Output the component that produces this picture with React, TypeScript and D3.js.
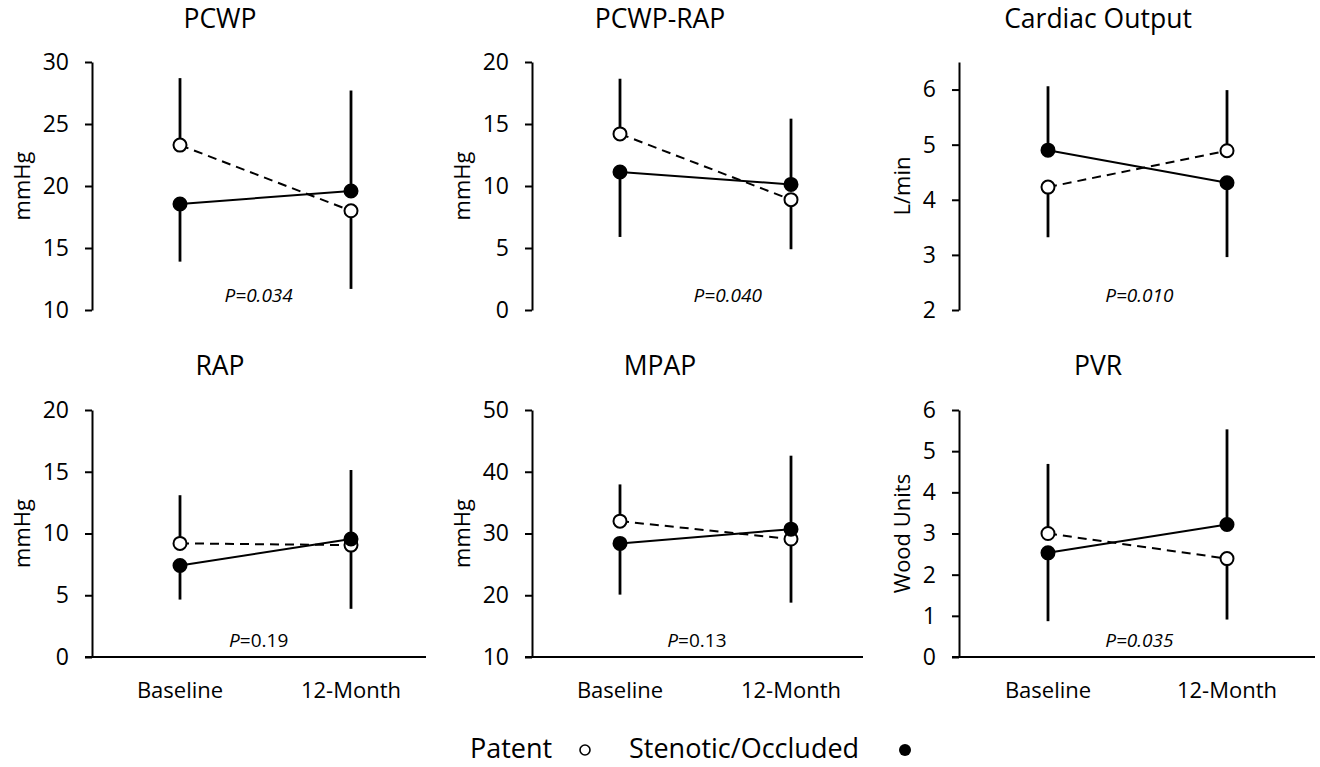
import React, { useRef, useEffect } from "react";
import * as d3 from "d3";

// chart data
const timepoints = ["Baseline", "12-Month"];
const panelTitles = ["PCWP", "PCWP-RAP", "Cardiac Output", "RAP", "MPAP", "PVR"];
const yLabels = ["mmHg", "mmHg", "L/min", "mmHg", "mmHg", "Wood Units"];
const yDomains = [[10, 30], [0, 20], [2, 6.5], [0, 20], [10, 50], [0, 6]];
const yTicks = [
  [10, 15, 20, 25, 30],
  [0, 5, 10, 15, 20],
  [2, 3, 4, 5, 6],
  [0, 5, 10, 15, 20],
  [10, 20, 30, 40, 50],
  [0, 1, 2, 3, 4, 5, 6],
];
// means and the end of the one-sided error bar, [baseline, 12-month]
const patentMeans = [[23.3, 18.0], [14.2, 8.9], [4.23, 4.89], [9.2, 9.06], [32.0, 29.1], [3.0, 2.39]];
const patentBarEnds = [[28.7, 11.7], [18.65, 4.9], [3.32, 5.99], [13.1, 3.9], [37.95, 18.8], [4.69, 0.91]];
const stenoticMeans = [[18.55, 19.6], [11.13, 10.13], [4.9, 4.31], [7.41, 9.55], [28.4, 30.7], [2.53, 3.22]];
const stenoticBarEnds = [[13.9, 27.7], [5.89, 15.43], [6.06, 2.96], [4.65, 15.14], [20.1, 42.6], [0.87, 5.53]];
const pValues = ["=0.034", "=0.040", "=0.010", "=0.19", "=0.13", "=0.035"];
const pAllItalic = [true, true, true, false, false, true];
const legendLabels = ["Patent", "Stenotic/Occluded"];

const App = () => {
  const ref = useRef<SVGSVGElement>(null);

  useEffect(() => {
    document.body.style.margin = "0";
    const width = 1320;
    const height = 767;
    const font = "'Open Sans', sans-serif";

    // layout per column / row
    const cols = [
      { axis: 92, p0: 180, p1: 351, end: 426, ylab: 30, title: 220 },
      { axis: 532, p0: 620, p1: 791, end: 863, ylab: 470, title: 660 },
      { axis: 959, p0: 1048, p1: 1227, end: 1315, ylab: 910, title: 1098 },
    ];
    const rows = [
      { top: 62, bottom: 310, title: 28, pY: 302, xAxis: false },
      { top: 410, bottom: 657, title: 375, pY: 647, xAxis: true },
    ];
    const pFrac = [0.46, 0.63, 0.51, 0.46, 0.45, 0.51];

    const svg = d3.select(ref.current).attr("width", width).attr("height", height);
    svg.selectAll("*").remove();

    panelTitles.forEach((title, i) => {
      const c = cols[i % 3];
      const r = rows[Math.floor(i / 3)];
      const g = svg.append("g").style("font-family", font);

      const x = d3.scalePoint().domain(timepoints).range([c.p0, c.p1]);
      const y = d3.scaleLinear().domain(yDomains[i]).range([r.bottom, r.top]);

      // title
      g.append("text")
        .attr("x", c.title)
        .attr("y", r.title)
        .attr("text-anchor", "middle")
        .style("font-size", "26.5px")
        .style("fill", "#000")
        .text(title);

      // y axis
      const yAxis = d3.axisLeft(y)
        .tickValues(yTicks[i])
        .tickFormat(d3.format("d"))
        .tickSize(7)
        .tickPadding(16)
        .tickSizeOuter(0);
      const ya = g.append("g").attr("transform", `translate(${c.axis},0)`).call(yAxis);
      ya.select(".domain").attr("stroke", "#000").attr("stroke-width", 2);
      ya.selectAll(".tick line").attr("stroke", "#000").attr("stroke-width", 2);
      ya.selectAll(".tick text")
        .style("font-size", "23px")
        .style("font-family", font)
        .attr("fill", "#000");

      // y label
      g.append("text")
        .attr("transform", `translate(${c.ylab},${(r.top + r.bottom) / 2}) rotate(-90)`)
        .attr("text-anchor", "middle")
        .style("font-size", "22px")
        .text(yLabels[i]);

      // x axis (bottom row only)
      if (r.xAxis) {
        g.append("line")
          .attr("x1", c.axis - 7)
          .attr("x2", c.end)
          .attr("y1", r.bottom)
          .attr("y2", r.bottom)
          .attr("stroke", "#000")
          .attr("stroke-width", 2);
        g.selectAll("text.cat")
          .data(timepoints)
          .enter()
          .append("text")
          .attr("class", "cat")
          .attr("x", (d) => x(d)!)
          .attr("y", r.bottom + 41)
          .attr("text-anchor", "middle")
          .style("font-size", "22px")
          .text((d) => d);
      }

      const series = [
        { means: patentMeans[i], ends: patentBarEnds[i], dash: "9,6", fill: "#fff" },
        { means: stenoticMeans[i], ends: stenoticBarEnds[i], dash: null, fill: "#000" },
      ];

      // error bars
      series.forEach((s) => {
        g.selectAll(null)
          .data(timepoints)
          .enter()
          .append("line")
          .attr("x1", (d) => x(d)!)
          .attr("x2", (d) => x(d)!)
          .attr("y1", (d, j) => y(s.means[j]))
          .attr("y2", (d, j) => y(s.ends[j]))
          .attr("stroke", "#000")
          .attr("stroke-width", 2.8);
      });

      // connecting lines
      series.forEach((s) => {
        const line = d3.line<string>().x((d) => x(d)!).y((d, j) => y(s.means[j]));
        g.append("path")
          .attr("d", line(timepoints))
          .attr("fill", "none")
          .attr("stroke", "#000")
          .attr("stroke-width", 2)
          .attr("stroke-dasharray", s.dash);
      });

      // markers
      series.forEach((s) => {
        g.selectAll(null)
          .data(timepoints)
          .enter()
          .append("circle")
          .attr("cx", (d) => x(d)!)
          .attr("cy", (d, j) => y(s.means[j]))
          .attr("r", 6.5)
          .attr("fill", s.fill)
          .attr("stroke", "#000")
          .attr("stroke-width", 2);
      });

      // p value
      const pt = g.append("text")
        .attr("x", c.p0 + (c.p1 - c.p0) * pFrac[i])
        .attr("y", r.pY)
        .attr("text-anchor", "middle")
        .style("font-size", "19px");
      pt.append("tspan").style("font-style", "italic").text("P");
      pt.append("tspan").style("font-style", pAllItalic[i] ? "italic" : "normal").text(pValues[i]);
    });

    // legend
    const lg = svg.append("g").style("font-family", font).style("font-size", "27px");
    lg.append("text").attr("x", 470).attr("y", 758).text(legendLabels[0]);
    lg.append("circle").attr("cx", 585).attr("cy", 750).attr("r", 5)
      .attr("fill", "#fff").attr("stroke", "#000").attr("stroke-width", 1.6);
    lg.append("text").attr("x", 629).attr("y", 758).text(legendLabels[1]);
    lg.append("circle").attr("cx", 905).attr("cy", 750).attr("r", 6).attr("fill", "#000");
  }, []);

  return (
    <div>
      <svg ref={ref} style={{ display: "block" }}></svg>
    </div>
  );
};

export default App;
